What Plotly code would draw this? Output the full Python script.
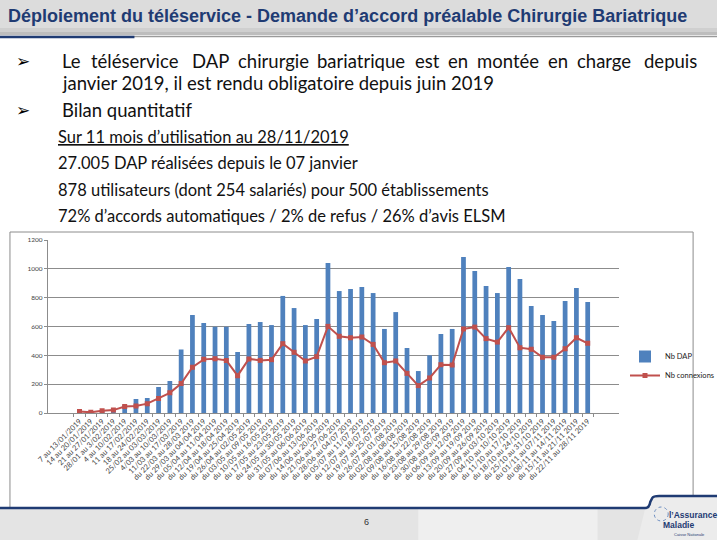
import plotly.graph_objects as go

# ---------------- data ----------------
weeks = [
    "7 au 13/01/2019", "14 au 20/01/2019", "21 au 27/01/2019", "28/01 au 3/02/2019",
    "4 au 10/02/2019", "11 au 17/02/2019", "18 au 24/02/2019", "25/02 au 03/03/2019",
    "4/03 au 10/03/2019", "11/03 au 17/03/2019",
    "du 22/03 au 28/03 2019", "du 29/03 au 04/04 2019", "du 05/04 au 11/04 2019",
    "du 12/04 au 18/04 2019", "du 19/04 au 25/04 2019", "du 26/04 au 02/05 2019",
    "du 03/05 au 09/05 2019", "du 10/05 au 16/05 2019", "du 17/05 au 23/05 2019",
    "du 24/05 au 30/05 2019", "du 31/05 au 06/06 2019", "du 07/06 au 13/06 2019",
    "du 14/06 au 20/06 2019", "du 21/06 au 27/06 2019", "du 28/06 au 04/07 2019",
    "du 05/07 au 11/07 2019", "du 12/07 au 18/07 2019", "du 19/07 au 25/07 2019",
    "du 26/07 au 01/08 2019", "du 02/08 au 08/08 2019", "du 09/08 au 15/08 2019",
    "du 16/08 au 22/08 2019", "du 23/08 au 29/08 2019", "du 30/08 au 05/09 2019",
    "du 06/09 au 12/09 2019", "du 13/09 au 19/09 2019", "du 20/09 au 26/09 2019",
    "du 27/09 au 03/10 2019", "du 04/10 au 10/10 2019", "du 11/10 au 17/10 2019",
    "du 18/10 au 24/10 2019", "du 25/10 au 31/10 2019", "du 01/11 au 07/11 2019",
    "du 08/11 au 14/11 2019", "du 15/11 au 21/11 2019", "du 22/11 au 28/11 2019",
]
nb_dap = [
    12, 10, 18, 30, 55, 97, 104, 180, 222, 440,
    680, 624, 599, 599, 423, 617, 631, 610, 812, 728,
    610, 652, 1040, 846, 860, 874, 832, 583, 700, 451,
    291, 400, 548, 583, 1082, 985, 881, 832, 1013, 929,
    742, 680, 638, 777, 867, 770,
]
nb_connexions = [
    10, 5, 15, 20, 45, 48, 65, 100, 140, 205,
    317, 372, 377, 365, 259, 375, 365, 370, 481, 421,
    361, 391, 601, 532, 522, 527, 476, 349, 361, 275,
    190, 243, 335, 333, 583, 596, 516, 492, 592, 453,
    442, 386, 386, 446, 522, 483,
]
y_ticks = [0, 200, 400, 600, 800, 1000, 1200]

title_text = "Déploiement du téléservice - Demande d’accord préalable Chirurgie Bariatrique"
line1_words = ["Le", "téléservice", "DAP", "chirurgie", "bariatrique", "est", "en",
               "montée", "en", "charge", "depuis"]
line2_text = "janvier 2019, il est rendu obligatoire depuis juin 2019"
bullet2_text = "Bilan quantitatif"
sub_lines = [
    "<u>Sur 11 mois d’utilisation au 28/11/2019</u>",
    "27.005 DAP réalisées depuis le 07 janvier",
    "878 utilisateurs (dont 254 salariés) pour 500 établissements",
    "72% d’accords automatiques / 2% de refus / 26% d’avis ELSM",
]

W, H = 720, 540
def px(x):
    return x / W
def py(y):
    return 1 - y / H

NAVY = "#1F3B73"
BODY_FONT = "Lato, Carlito, Calibri, sans-serif"

fig = go.Figure()
fig.add_trace(go.Bar(
    x=weeks, y=nb_dap, name="Nb DAP",
    marker=dict(color="#4F81BD", line=dict(width=0)),
))
fig.add_trace(go.Scatter(
    x=weeks, y=nb_connexions, name="Nb connexions", mode="lines+markers",
    line=dict(color="#C0504D", width=2),
    marker=dict(symbol="square", size=5, color="#C0504D"),
))

shapes = []
# header band
shapes.append(dict(type="rect", xref="paper", yref="paper", x0=0, x1=1, y0=py(28), y1=py(0),
                   fillcolor="#DCDCDC", line=dict(width=0), layer="below"))
shapes.append(dict(type="rect", xref="paper", yref="paper", x0=0, x1=1, y0=py(32), y1=py(28),
                   fillcolor="#CFCFCF", line=dict(width=0), layer="below"))
shapes.append(dict(type="rect", xref="paper", yref="paper", x0=0, x1=1, y0=py(35), y1=py(32),
                   fillcolor="#BDBDBD", line=dict(width=0), layer="below"))
shapes.append(dict(type="line", xref="paper", yref="paper", x0=0, x1=1, y0=py(36.5), y1=py(36.5),
                   line=dict(color="#9A9A9A", width=1.5), layer="below"))
shapes.append(dict(type="line", xref="paper", yref="paper", x0=0, x1=px(135), y0=py(37), y1=py(37),
                   line=dict(color=NAVY, width=2.5), layer="below"))
# chart box
shapes.append(dict(type="rect", xref="paper", yref="paper", x0=px(10), x1=px(696), y0=py(508), y1=py(232),
                   fillcolor="white", line=dict(color="#8C8C8C", width=1), layer="below"))
# footer
shapes.append(dict(type="rect", xref="paper", yref="paper", x0=0, x1=1, y0=0, y1=py(508),
                   fillcolor="#E4E4E4", line=dict(width=0), layer="above"))
shapes.append(dict(type="rect", xref="paper", yref="paper", x0=px(420), x1=px(600), y0=0, y1=py(509),
                   fillcolor="#EFEFEF", line=dict(width=0), layer="above"))
shapes.append(dict(type="path", xref="paper", yref="paper", layer="above",
                   path=f"M {px(648)} {py(508)} Q {px(652)} {py(508)} {px(653)} {py(502)} "
                        f"L {px(655)} {py(498)} Q {px(656)} {py(496)} {px(662)} {py(496)} "
                        f"L 1 {py(496)} L 1 {py(540)} L {px(640)} {py(540)} Z",
                   fillcolor="#ECECEC", line=dict(width=0)))
shapes.append(dict(type="path", xref="paper", yref="paper", layer="above",
                   path=f"M 0 {py(508)} L {px(648)} {py(508)} Q {px(652)} {py(508)} {px(653)} {py(502)} "
                        f"L {px(655)} {py(498)} Q {px(656)} {py(496)} {px(662)} {py(496)} L 1 {py(496)}",
                   line=dict(color=NAVY, width=2.5)))
shapes.append(dict(type="circle", xref="paper", yref="paper", layer="above",
                   x0=px(657), x1=px(671), y0=py(521), y1=py(507),
                   line=dict(color="#6A8CC0", width=1, dash="dot")))

annotations = []
annotations.append(dict(text=f"<b>{title_text}</b>", x=px(6), y=py(16), xref="paper", yref="paper",
                        xanchor="left", yanchor="middle", showarrow=False,
                        font=dict(family="Liberation Sans, Arial", size=18, color=NAVY)))
# bullets
for yy in (61, 110):
    annotations.append(dict(text="➢", x=px(23), y=py(yy), xref="paper", yref="paper",
                            xanchor="center", yanchor="middle", showarrow=False,
                            font=dict(family="DejaVu Sans", size=17, color="#000")))
# justified first line (word by word)
MAIN = 18.5
annotations.append(dict(text=line1_words[0], x=px(60), y=py(61), xref="paper", yref="paper",
                        xanchor="left", yanchor="middle", showarrow=False,
                        font=dict(family=BODY_FONT, size=MAIN, color="#111")))
word_cx = [136, 211, 275, 363, 429, 460, 510, 560, 607]
for wx, wd in zip(word_cx, line1_words[1:-1]):
    annotations.append(dict(text=wd, x=px(wx), y=py(61), xref="paper", yref="paper",
                            xanchor="center", yanchor="middle", showarrow=False,
                            font=dict(family=BODY_FONT, size=MAIN, color="#111")))
annotations.append(dict(text=line1_words[-1], x=px(702), y=py(61), xref="paper", yref="paper",
                        xanchor="right", yanchor="middle", showarrow=False,
                        font=dict(family=BODY_FONT, size=MAIN, color="#111")))
annotations.append(dict(text=line2_text, x=px(60), y=py(83), xref="paper", yref="paper",
                        xanchor="left", yanchor="middle", showarrow=False,
                        font=dict(family=BODY_FONT, size=MAIN, color="#111")))
annotations.append(dict(text=bullet2_text, x=px(60), y=py(110), xref="paper", yref="paper",
                        xanchor="left", yanchor="middle", showarrow=False,
                        font=dict(family=BODY_FONT, size=MAIN, color="#111")))
for i, t in enumerate(sub_lines):
    annotations.append(dict(text=t, x=px(56), y=py(137 + 26.3 * i), xref="paper", yref="paper",
                            xanchor="left", yanchor="middle", showarrow=False,
                            font=dict(family=BODY_FONT, size=16.5, color="#111")))
# footer texts
annotations.append(dict(text="6", x=px(368), y=py(522), xref="paper", yref="paper",
                        xanchor="center", yanchor="middle", showarrow=False,
                        font=dict(family="Liberation Sans, Arial", size=9, color="#333")))
annotations.append(dict(text="<b>l’Assurance</b>", x=px(670), y=py(515), xref="paper", yref="paper",
                        xanchor="left", yanchor="middle", showarrow=False,
                        font=dict(family="Liberation Sans Narrow, Liberation Sans", size=8.5, color=NAVY)))
annotations.append(dict(text="<b>Maladie</b>", x=px(664), y=py(525), xref="paper", yref="paper",
                        xanchor="left", yanchor="middle", showarrow=False,
                        font=dict(family="Liberation Sans Narrow, Liberation Sans", size=8.5, color=NAVY)))
annotations.append(dict(text="Caisse Nationale", x=px(675), y=py(534), xref="paper", yref="paper",
                        xanchor="left", yanchor="middle", showarrow=False,
                        font=dict(family="Liberation Sans", size=4, color=NAVY)))

fig.update_layout(
    width=W, height=H,
    margin=dict(l=0, r=0, t=0, b=0),
    paper_bgcolor="white", plot_bgcolor="white",
    bargap=0.58,
    showlegend=True,
    legend=dict(x=px(628), y=py(342), xanchor="left", yanchor="top",
                font=dict(family=BODY_FONT, size=7.5, color="#222"),
                bgcolor="rgba(0,0,0,0)", tracegroupgap=0, itemwidth=30),
    xaxis=dict(domain=[px(48), px(622)], type="category", tickangle=-45,
               tickfont=dict(family=BODY_FONT, size=7.5, color="#444"),
               showline=True, linecolor="#8C8C8C", linewidth=1,
               ticks="outside", ticklen=3, tickcolor="#8C8C8C", tickson="boundaries",
               showgrid=False, automargin=False),
    yaxis=dict(domain=[py(413), py(240)], range=[0, 1200], tickvals=y_ticks,
               tickfont=dict(family=BODY_FONT, size=6.5, color="#444"),
               showline=True, linecolor="#8C8C8C", linewidth=1,
               ticks="outside", ticklen=3, tickcolor="#8C8C8C",
               showgrid=True, gridcolor="#8C8C8C", gridwidth=1,
               zeroline=False, automargin=False),
    shapes=shapes,
    annotations=annotations,
)

fig.write_html("out.html", config={"displayModeBar": False},
               post_script="document.body.style.margin='0';document.body.style.overflow='hidden';")
